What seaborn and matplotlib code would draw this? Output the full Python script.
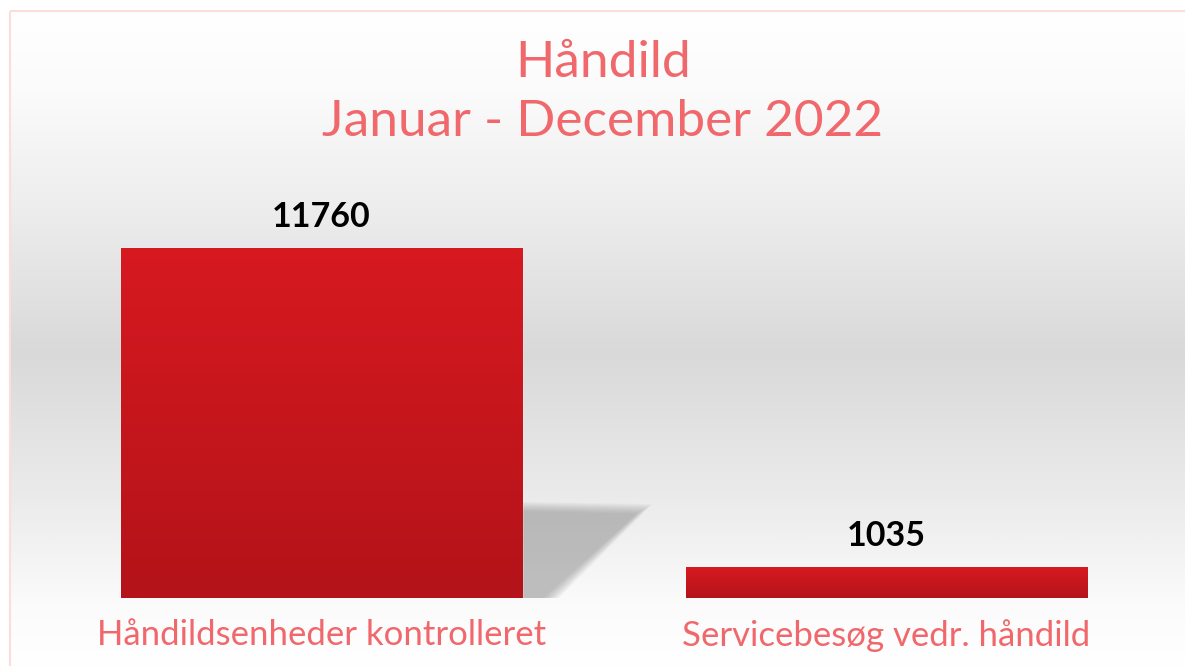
import numpy as np
import matplotlib
matplotlib.use("Agg")
import matplotlib.pyplot as plt
import seaborn as sns
import pandas as pd
from matplotlib.colors import LinearSegmentedColormap
from matplotlib.patches import Rectangle, Polygon

title_lines = ["Håndild", "Januar - December 2022"]
categories = ["Håndildsenheder kontrolleret", "Servicebesøg vedr. håndild"]
values = [11760, 1035]
value_labels = ["11760", "1035"]

sns.set_theme(style="white")
plt.rcParams['font.family'] = ['Lato', 'DejaVu Sans']

W, H = 1185, 666
fig = plt.figure(figsize=(W / 100, H / 100), dpi=100)
fig.patch.set_facecolor('white')

# background panel with vertical gradient
bg = fig.add_axes([0, 0, 1, 1], zorder=0)
bg.set_xlim(0, W)
bg.set_ylim(H, 0)
bg.axis('off')
bg_cmap = LinearSegmentedColormap.from_list(
    'bg', [(0, '#ffffff'), (0.12, '#fbfbfb'), (0.3, '#ededed'), (0.52, '#d9d9d9'),
           (0.75, '#ececec'), (0.9, '#fbfbfb'), (1, '#ffffff')])
grad = np.linspace(0, 1, 512).reshape(-1, 1)
bg.imshow(grad, cmap=bg_cmap, extent=(10, W + 5, H + 5, 10), aspect='auto', origin='upper')
bg.add_patch(Rectangle((9.5, 10.5), W, H, fill=False, edgecolor='#fddcdc', lw=1.5))

# main axes
ax = fig.add_axes([39 / W, (H - 598) / H, 1130 / W, (598 - 160) / H], zorder=1)
ax.patch.set_alpha(0)
df = pd.DataFrame({'cat': categories, 'val': values})
sns.barplot(data=df, x='cat', y='val', ax=ax, width=0.71, color='#c8161d', saturation=1)
ax.set_xlim(-0.5, 1.5)
ylim_top = 11760 * (598 - 160) / 350
ax.set_ylim(0, ylim_top)
bars = [pp for pp in ax.patches if isinstance(pp, Rectangle)]

# soft shadow behind first bar
p0 = bars[0]
xr = p0.get_x() + p0.get_width()
sh_top = values[0] * 0.245
n = 12
for k in range(n):
    g = (n - k) / n
    poly = Polygon([(xr - 0.01, 0), (xr - 0.01, sh_top + g * 350),
                    (xr + 0.20 + g * 0.03, sh_top - 80 + g * 350),
                    (xr + 0.035 + g * 0.03, 0)],
                   closed=True, facecolor='#8a8a8a', edgecolor='none', alpha=0.055, zorder=0.5)
    ax.add_patch(poly)

# gradient fill for bars
bar_cmap = LinearSegmentedColormap.from_list('bar', ['#b31319', '#d71920'])
for p in bars:
    x, y, w, h = p.get_x(), p.get_y(), p.get_width(), p.get_height()
    if h <= 0:
        continue
    im = ax.imshow(np.linspace(0, 1, 256).reshape(-1, 1), cmap=bar_cmap,
                   extent=(x, x + w, y, y + h), origin='lower', aspect='auto', zorder=2)
    im.set_clip_path(p)
ax.set_xlim(-0.5, 1.5)
ax.set_ylim(0, ylim_top)

# value labels
for i, (v, lab) in enumerate(zip(values, value_labels)):
    ax.annotate(lab, (i, v), xytext=(0, 22.5), textcoords='offset points',
                ha='center', va='center', fontsize=24.5, fontweight='bold', color='#000000', zorder=3)

for s in ax.spines.values():
    s.set_visible(False)
ax.set_yticks([])
ax.set_xlabel('')
ax.set_ylabel('')
ax.tick_params(axis='x', length=0, pad=15, labelsize=25, labelcolor='#f0686c')

fig.text(603 / W, 1 - 63 / H, title_lines[0], ha='center', va='center', fontsize=37, color='#f0686c')
fig.text(603 / W, 1 - 122 / H, title_lines[1], ha='center', va='center', fontsize=37, color='#f0686c')

fig.savefig('out.png', dpi=100)
